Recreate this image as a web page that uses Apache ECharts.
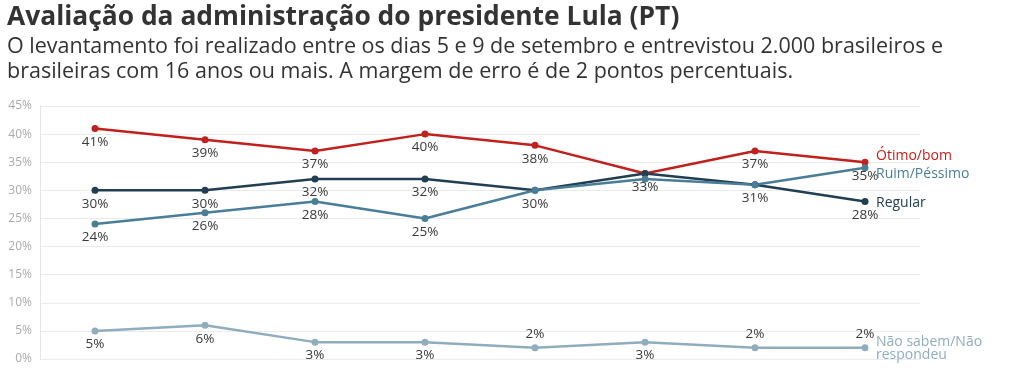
<!DOCTYPE html>
<html>
<head>
<meta charset="utf-8">
<script src="https://cdn.jsdelivr.net/npm/echarts@6/dist/echarts.min.js"></script>
<style>
html,body{margin:0;padding:0;background:#fff;}
#chart{width:1024px;height:373px;}
</style>
</head>
<body>
<div id="chart"></div>
<script>
const categories = ['1', '2', '3', '4', '5', '6', '7', '8'];
const otimoBom = [41, 39, 37, 40, 38, 33, 37, 35];
const regular = [30, 30, 32, 32, 30, 33, 31, 28];
const ruimPessimo = [24, 26, 28, 25, 30, 32, 31, 34];
const naoSabem = [5, 6, 3, 3, 2, 3, 2, 2];
const yTicks = [0, 5, 10, 15, 20, 25, 30, 35, 40, 45];

const titleText = 'Avaliação da administração do presidente Lula (PT)';
const subtitleText = 'O levantamento foi realizado entre os dias 5 e 9 de setembro e entrevistou 2.000 brasileiros e\nbrasileiras com 16 anos ou mais. A margem de erro é de 2 pontos percentuais.';

// which value labels are drawn (the reference hides overlapping ones)
const otimoLabelShown = [true, true, true, true, true, false, true, true];
const regularLabelShown = [true, true, true, true, true, true, true, true];
const ruimLabelShown = [true, true, true, true, false, false, false, false];
const naoSabemLabelShown = [true, true, true, true, true, true, true, true];
const naoSabemLabelAbove = [false, false, false, false, true, false, true, true];

const FONT = '"Open Sans", sans-serif';
const chart = echarts.init(document.getElementById('chart'), null, {renderer: 'canvas'});

function mkSeries(name, endText, data, color, endOffset, shown, above) {
  return {
    name: name,
    type: 'line',
    data: data.map((v, i) => {
      const item = {value: v, label: {show: shown[i]}};
      if (above && above[i]) {
        item.label.position = 'top';
        item.label.distance = 3;
      }
      return item;
    }),
    symbol: 'circle',
    symbolSize: 7,
    lineStyle: {color: color, width: 2.5},
    itemStyle: {color: color},
    label: {
      show: true,
      position: 'bottom',
      distance: 3,
      formatter: '{c}%',
      color: '#3a3a3a',
      fontFamily: FONT,
      fontSize: 13.5
    },
    endLabel: {
      show: true,
      formatter: endText,
      color: color,
      fontFamily: FONT,
      fontSize: 14,
      lineHeight: 13,
      distance: 11,
      offset: endOffset
    },
    emphasis: {disabled: true},
    animation: false
  };
}

chart.setOption({
  animation: false,
  title: [{
    text: titleText,
    left: 2,
    top: -1,
    textStyle: {fontFamily: FONT, fontSize: 26.4, fontWeight: 'bold', color: '#333'}
  }, {
    text: subtitleText,
    left: 2,
    top: 29,
    textStyle: {fontFamily: FONT, fontSize: 21.5, fontWeight: 'normal', color: '#333', lineHeight: 25}
  }],
  grid: {left: 40, right: 104, top: 106, bottom: 14},
  xAxis: {
    type: 'category',
    data: categories,
    boundaryGap: true,
    axisLine: {show: false},
    axisTick: {show: false},
    axisLabel: {show: false},
    splitLine: {show: false}
  },
  yAxis: {
    type: 'value',
    min: 0,
    max: 45,
    interval: 5,
    axisLine: {show: true, lineStyle: {color: '#e6e6e6'}},
    axisTick: {show: false},
    axisLabel: {
      color: '#aaa',
      fontFamily: FONT,
      fontSize: 12,
      margin: 8,
      formatter: v => yTicks.includes(v) ? v + '%' : ''
    },
    splitLine: {show: true, lineStyle: {color: '#ebebeb', width: 1}}
  },
  series: [
    mkSeries('Ótimo/bom', 'Ótimo/bom', otimoBom, '#c0211d', [0, -6], otimoLabelShown),
    mkSeries('Regular', 'Regular', regular, '#213f50', [0, 1], regularLabelShown),
    mkSeries('Ruim/Péssimo', 'Ruim/Péssimo', ruimPessimo, '#4a7e98', [0, 6], ruimLabelShown),
    mkSeries('Não sabem/Não respondeu', 'Não sabem/Não\nrespondeu', naoSabem, '#8fadbd', [0, 1], naoSabemLabelShown, naoSabemLabelAbove)
  ]
});
</script>
</body>
</html>
